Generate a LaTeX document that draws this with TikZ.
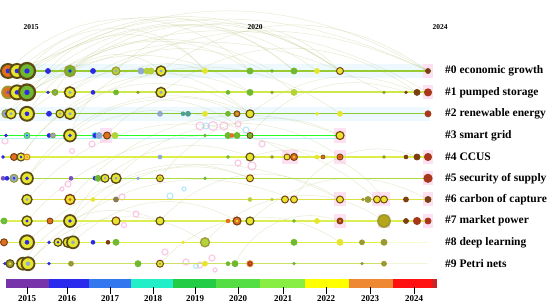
\documentclass[tikz,border=0pt]{standalone}
\usepackage{fontspec}
\setmainfont{Liberation Serif}
\usetikzlibrary{backgrounds}
\definecolor{dk}{HTML}{5C4A14}
\definecolor{yl}{HTML}{E6E62E}
\definecolor{yg}{HTML}{B4D23C}
\definecolor{gr}{HTML}{70B830}
\definecolor{bl}{HTML}{2A2AE6}
\definecolor{pu}{HTML}{7B4FC0}
\definecolor{br}{HTML}{7A3E10}
\definecolor{rb}{HTML}{A8361A}
\definecolor{og}{HTML}{E0701E}
\definecolor{lb}{HTML}{90A8D0}
\definecolor{cy}{HTML}{50E0E0}
\definecolor{ol}{HTML}{9A9A30}
\definecolor{od}{HTML}{B8A418}
\definecolor{tl}{HTML}{50A090}
\definecolor{gy}{HTML}{8A7A50}
\definecolor{linkc}{HTML}{B3C27A}
\definecolor{cb15}{HTML}{7733AA}
\definecolor{cb16}{HTML}{2A2AEE}
\definecolor{cb17}{HTML}{3377EE}
\definecolor{cb18}{HTML}{22EEC8}
\definecolor{cb19}{HTML}{22CC44}
\definecolor{cb20}{HTML}{55DD44}
\definecolor{cb21}{HTML}{88EE44}
\definecolor{cb22}{HTML}{FFFF00}
\definecolor{cb23}{HTML}{EE8833}
\definecolor{cb24}{HTML}{FF1111}
\definecolor{cb25}{HTML}{CC2222}
\definecolor{lzero}{HTML}{99CC33}
\definecolor{lone}{HTML}{CCE84A}
\definecolor{ltwo}{HTML}{88CC33}
\definecolor{lthree}{HTML}{22FF22}
\definecolor{lthreeb}{HTML}{B0F4F4}
\definecolor{lfour}{HTML}{DDEE44}
\definecolor{lfive}{HTML}{AADD44}
\definecolor{lsix}{HTML}{DDE044}
\definecolor{lseven}{HTML}{DDEE55}
\definecolor{leight}{HTML}{DDEE44}
\definecolor{lnine}{HTML}{CCE066}
\newcommand\cn[7]{\node[cnode,minimum size=#4*2pt,draw=#5,fill=#6,line width=#4*0.28pt] (#1) at (#2,#3) {};\fill[#7] (#1.center) circle[radius=#4*0.33pt];}
\begin{document}
\begin{tikzpicture}[x=1pt,y=-1pt,
  cnode/.style={circle,inner sep=0pt,outer sep=0pt},
  link/.style={draw=linkc,line width=0.5pt,opacity=0.32},
  rowline/.style={line width=1.1pt},
  lab/.style={font=\bfseries\fontsize{11.5}{12}\selectfont,anchor=west,inner sep=0pt},
  yr/.style={font=\bfseries\fontsize{9}{10}\selectfont,inner sep=0pt,anchor=north},
  topyr/.style={font=\bfseries\fontsize{7.5}{8}\selectfont,inner sep=0pt},
  halo/.style={draw=magenta!35,line width=1.2pt,opacity=0.6},
  haloc/.style={draw=cyan!45,line width=1.2pt,opacity=0.6}]
\useasboundingbox (0,0) rectangle (550,304);
% row nodes
\foreach \x/\r/\o/\f/\c [count=\i] in {8/7/dk/og/bl,17/7/dk/yl/bl,27/8/dk/gr/bl,48/2.5/bl/bl/bl,70/5.5/ol/gr/bl,93/2.5/bl/bl/bl,116/4/ol/yg/lb,141/3/lb/lb/lb,147/3/yg/yg/yg,151/3/yg/yg/yg,161/5/dk/yl/lb,205/2.5/yl/yl/yl,250/3/gr/gr/gr,272/1.5/gr/gr/gr,294/3/gr/gr/gr,317/2.5/yl/yl/yl,340/3.5/br/yl/yl,428/2.5/br/br/br}{\cn{n0-\i}{\x}{71}{\r}{\o}{\f}{\c}}
\foreach \x/\r/\o/\f/\c [count=\i] in {8/6/ol/og/pu,17/7/dk/yl/bl,27/8/dk/gr/bl,48/1.5/bl/bl/bl,55/3/ol/gr/lb,70/5.5/dk/yl/lb,93/2/bl/bl/bl,116/2.5/gr/gr/gr,138/1.5/ol/ol/ol,161/5/dk/yl/lb,228/2/gr/gr/gr,250/3/gr/gr/gr,272/1.5/ol/ol/ol,294/3/yg/yg/yg,384/1.5/ol/ol/ol,406/1.5/br/br/br,417/3/br/br/br,428/3.5/rb/rb/rb}{\cn{n1-\i}{\x}{92.4}{\r}{\o}{\f}{\c}}
\foreach \x/\r/\o/\f/\c [count=\i] in {6/4/ol/lb/bl,11/5/dk/yl/lb,27/7/dk/yl/bl,49/2.5/bl/bl/bl,60/4/dk/yl/lb,70/5.5/dk/yl/lb,160/2.5/lb/lb/lb,183/2/tl/tl/tl,188/2.5/tl/tl/tl,205/2.5/yl/yl/yl,228/2.5/gr/gr/gr,237/3/dk/og/yg,250/4/dk/yl/yl,317/1.5/yl/yl/yl,340/2.5/yl/yl/yl,428/3/rb/rb/rb}{\cn{n2-\i}{\x}{113.8}{\r}{\o}{\f}{\c}}
\foreach \x/\r/\o/\f/\c [count=\i] in {6/1.5/bl/bl/bl,27/3/gr/cy/bl,49/2/bl/bl/bl,53/2.5/ol/lb/lb,70/6/dk/yl/bl,95/3/cy/bl/bl,99/3/lb/lb/lb,107/3.5/br/og/og,115/3/yg/yg/yg,205/1.5/gr/gr/gr,228/3/gr/gr/gr,232/2/og/og/og,237/3/gr/gr/gr,250/3/br/gr/gr,340/4/br/yl/yl}{\cn{n3-\i}{\x}{135.5}{\r}{\o}{\f}{\c}}
\foreach \x/\r/\o/\f/\c [count=\i] in {3/1.5/bl/bl/bl,14/3.5/br/og/og,21/4/dk/yl/bl,27/3/og/yl/og,160/2/lb/lb/lb,228/1.5/gr/gr/gr,250/4/dk/yl/yl,272/1.5/ol/ol/ol,287/3/br/yl/yl,294/3.5/br/og/yl,317/2/yl/yl/yl,323/2/br/og/og,340/3/br/og/rb,384/1.5/ol/ol/ol,406/2/br/br/br,417/3/br/br/br,428/3.5/rb/rb/rb}{\cn{n4-\i}{\x}{157}{\r}{\o}{\f}{\c}}
\foreach \x/\r/\o/\f/\c [count=\i] in {3/2/pu/pu/pu,7/2/bl/bl/bl,14/4/ol/lb/bl,27/6/dk/yl/bl,71/2/pu/pu/pu,95/2/bl/bl/bl,98/3/gr/gr/gr,105/4/dk/yl/lb,116/5/dk/yl/lb,138/1.5/lb/lb/lb,160/3.5/br/yl/gr,205/1.5/gr/gr/gr,250/3.5/br/yl/yl,428/4/rb/rb/rb}{\cn{n5-\i}{\x}{178.3}{\r}{\o}{\f}{\c}}
\foreach \x/\r/\o/\f/\c [count=\i] in {27/5/dk/yl/lb,70/5/br/yl/og,93/2/yl/yl/yl,116/2.5/gy/gy/gy,250/2/yg/yg/yg,272/1.5/yg/yg/yg,285/3.5/br/yl/yl,294/3.5/br/yl/yl,340/3.5/br/yl/yl,363/1.5/ol/ol/ol,368/3/ol/ol/ol,377/3.5/br/yl/yl,384/3.5/br/yl/yl,406/2.5/br/br/br,428/3/br/br/br}{\cn{n6-\i}{\x}{199.5}{\r}{\o}{\f}{\c}}
\foreach \x/\r/\o/\f/\c [count=\i] in {4/3/gr/gr/cy,27/5/dk/yl/bl,50/3/br/og/og,70/6/dk/yl/bl,116/4/br/yl/yl,160/4/dk/yl/yl,228/2/og/og/og,237/4/br/og/yl,250/4/dk/yl/yl,294/1.5/gr/gr/gr,317/2.5/yl/yl/yl,340/3/br/rb/yl,384/6/ol/od/od,406/2.5/br/br/br,417/3.5/rb/rb/rb,428/3/rb/rb/rb}{\cn{n7-\i}{\x}{221}{\r}{\o}{\f}{\c}}
\foreach \x/\r/\o/\f/\c [count=\i] in {4/3.5/br/og/og,27/7/dk/yl/bl,49/1.5/bl/bl/bl,58/4/dk/yl/bl,68/5/dk/yl/bl,73/6/dk/yl/lb,93/2/bl/bl/bl,108/2/br/br/br,116/3/gr/gr/gr,183/1.5/yl/yl/yl,205/4.5/ol/yg/yg,294/3/gr/gr/gr,340/3/yl/yl/yl,362/2.5/ol/ol/ol,384/3/ol/ol/ol}{\cn{n8-\i}{\x}{242.3}{\r}{\o}{\f}{\c}}
\foreach \x/\r/\o/\f/\c [count=\i] in {5/1.5/bl/bl/bl,10/4/dk/ol/yl,23/6/dk/yl/pu,28/6.5/dk/yl/lb,49/1.5/bl/bl/bl,71/2.5/ol/ol/ol,138/3/gr/gr/gr,160/3.5/br/yl/gr,205/2.5/yl/yl/yl,228/2/gr/gr/gr,235/3/gr/gr/gr,250/3/og/rb/og,294/1.5/gr/gr/gr,362/1.5/ol/ol/ol,384/2.5/ol/ol/ol}{\cn{n9-\i}{\x}{263.7}{\r}{\o}{\f}{\c}}
% row ends
\coordinate (s0) at (2,71);    \coordinate (e0) at (428,71);
\coordinate (s1) at (2,92.4);  \coordinate (e1) at (428,92.4);
\coordinate (s2) at (2,113.8); \coordinate (e2) at (428,113.8);
\coordinate (s3) at (0,135.5); \coordinate (e3) at (340,135.5);
\coordinate (s3b) at (0,138.3);  \coordinate (e3b) at (340,138.3);
\coordinate (s4) at (2,157);   \coordinate (e4) at (428,157);
\coordinate (s5) at (2,178.3); \coordinate (e5) at (428,178.3);
\coordinate (s6) at (22,199.5);\coordinate (e6) at (428,199.5);
\coordinate (s7) at (0,221);   \coordinate (e7) at (428,221);
\coordinate (s8) at (0,242.3); \coordinate (e8) at (384,242.3); \coordinate (f8) at (428,242.3);
\coordinate (s9) at (2,263.7); \coordinate (e9) at (384,263.7); \coordinate (f9) at (428,263.7);
\begin{pgfonlayer}{background}
  % pale bands and highlight squares
  \fill[cyan!7] (0,64) rectangle (430,78);
  \fill[cyan!7] (0,107) rectangle (430,121);
  \fill[cyan!6] (135,64) rectangle (158,78);
  \foreach \yy in {71,92.4,157,178.3,199.5,221} {\fill[magenta!12] (423,\yy-7) rectangle (433,\yy+7);}
  \fill[magenta!12] (334,128) rectangle (346,143);
  \fill[magenta!12] (334,150) rectangle (346,164);
  \fill[magenta!12] (334,192) rectangle (346,206);
  \fill[magenta!12] (334,214) rectangle (346,228);
  \fill[magenta!12] (372,192) rectangle (390,206);
  \fill[magenta!12] (378,214) rectangle (390,228);
  \fill[magenta!12] (282,150) rectangle (298,164);
  \fill[magenta!12] (100,128) rectangle (112,143);
  % links
  \foreach \a/\b/\bb in {n0-3/n0-17/35,n0-2/n0-15/40,n0-1/n0-13/45,n0-3/n0-18/30,n0-5/n0-17/35,n0-11/n0-18/35,n1-3/n0-16/40,n1-2/n1-18/30,n2-3/n0-13/45,n2-6/n2-15/35,n1-6/n1-14/40,n0-7/n0-17/45,n2-3/n2-13/40,n1-10/n1-17/35,n0-4/n0-12/50,n1-5/n0-11/50,n2-1/n1-12/40,n0-2/n0-18/25,n1-1/n0-17/38,n0-3/n0-12/50,n1-3/n1-15/28,n0-5/n0-15/42,n2-2/n0-14/40,n1-6/n0-18/28,
     n3-5/n0-12/45,n5-4/n3-14/40,n4-3/n2-13/45,n5-9/n4-13/40,n7-4/n5-13/35,n8-2/n6-9/35,n6-1/n4-10/40,n6-2/n3-15/35,n7-2/n6-12/45,n8-6/n7-8/35,n9-4/n8-11/40,n3-14/n1-16/35,n6-8/n4-16/40,n7-9/n6-15/35,n4-7/n6-13/35,n8-11/n7-13/40,n9-8/n8-13/40,n5-11/n3-15/40,n8-5/n5-13/40,n9-11/n7-12/40,n7-6/n6-9/40,n3-8/n2-12/40,n2-13/n1-17/30,n3-5/n3-14/40,n9-3/n7-6/40,n5-4/n2-13/40,n4-3/n1-12/40,n7-4/n4-7/40,n9-4/n6-8/35}
    {\draw[link] (\a) to[bend left=\bb] (\b);}
  % halo artifacts
  \foreach \hx/\hy/\hr in {200/126/4,213/126/4.5,224/126/4,238/124/3,5/141/3,92/144/3,262/144/3,72/151/2.5,68/184/3,62/189/2,122/197/3,136/214/3,124/225/2.5,165/252/3,212/258/3,186/262/3,200/265/3,215/270/2,252/166/4,238/163/3}
    {\draw[halo] (\hx,\hy) circle[radius=\hr];}
  \foreach \hx/\hy/\hr in {206/126/3,246/130/3,170/196/3,196/266/2.5,184/189/2}
    {\draw[haloc] (\hx,\hy) circle[radius=\hr];}
  % row lines
  \draw[rowline,lzero] (s0) -- (e0);
  \draw[rowline,lone,line width=1.8pt] (s1) -- (e1);
  \draw[rowline,ltwo] (s2) -- (e2);
  \draw[line width=1pt,draw=lthreeb] (s3b) -- (e3b);
  \draw[draw=lthree,line width=1.5pt] (s3) -- (e3);
  \draw[rowline,lfour] (s4) -- (e4);
  \draw[rowline,lfive] (s5) -- (e5);
  \draw[rowline,lsix] (s6) -- (e6);
  \draw[rowline,lseven] (s7) -- (e7);
  \draw[rowline,leight] (s8) -- (e8);
  \draw[rowline,leight!25] (e8) -- (f8);
  \draw[rowline,lnine] (s9) -- (e9);
  \draw[rowline,lnine!25] (e9) -- (f9);
\end{pgfonlayer}
% top year labels
\node[topyr] (t2015) at (31,27) {2015};
\node[topyr] (t2020) at (255,27) {2020};
\node[topyr] (t2024) at (440,27) {2024};
% cluster labels
\node[lab] (c0) at (445,71) {\#0 economic growth};
\node[lab] (c1) at (445,92.4) {\#1 pumped storage};
\node[lab] (c2) at (445,113.8) {\#2 renewable energy};
\node[lab] (c3) at (445,135.5) {\#3 smart grid};
\node[lab] (c4) at (445,157) {\#4 CCUS};
\node[lab] (c5) at (445,178.3) {\#5 security of supply};
\node[lab] (c6) at (445,199.5) {\#6 carbon of capture};
\node[lab] (c7) at (445,221) {\#7 market power};
\node[lab] (c8) at (445,242.3) {\#8 deep learning};
\node[lab] (c9) at (445,263.7) {\#9 Petri nets};
% colour bar
\foreach \xa/\xb/\cc in {6/49/cb15,49/89/cb16,89/131/cb17,131/173/cb18,173/216/cb19,216/260/cb20,260/305/cb21,305/349/cb22,349/393/cb23,393/432/cb24,432/437/cb25}
  {\fill[\cc] (\xa,279) rectangle (\xb,288.5);}
\foreach \tx/\yl [count=\k] in {27/2015,67/2016,110/2017,153/2018,195/2019,238/2020,283/2021,326/2022,370/2023,414/2024}
  {\coordinate (tk\k) at (\tx,287); \coordinate (tb\k) at (\tx,294);
   \draw[line width=0.7pt] (tk\k) -- (tb\k);
   \node[yr] (y\k) at (\tx,295.5) {\yl};}
\end{tikzpicture}
\end{document}
